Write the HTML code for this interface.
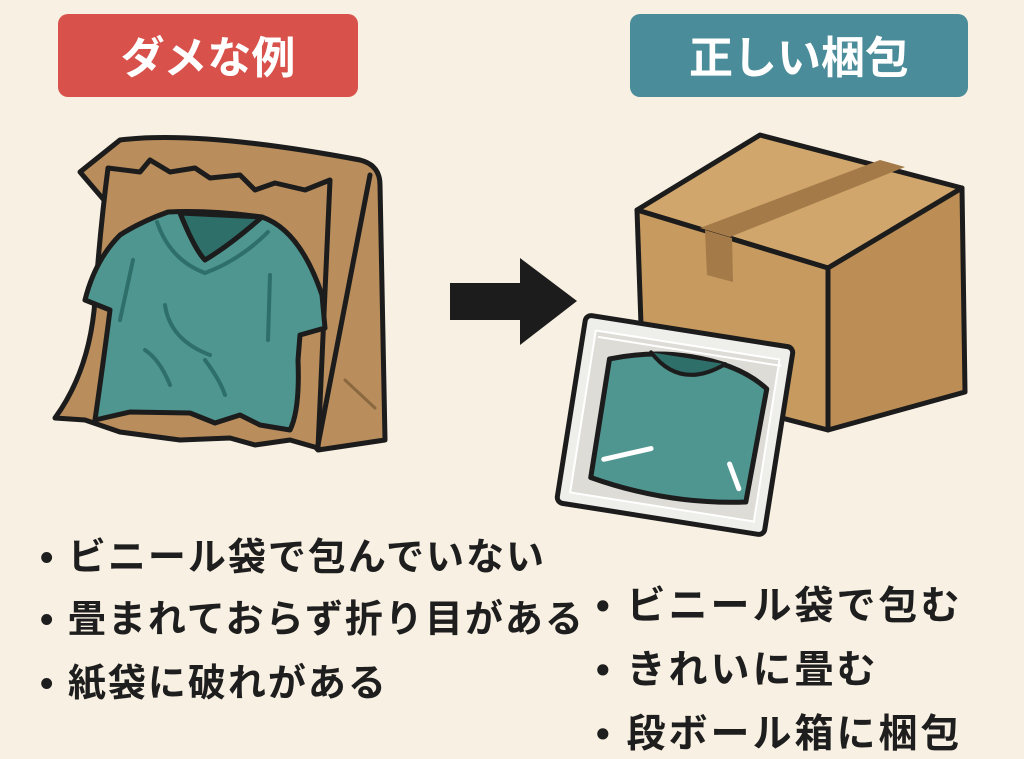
<!DOCTYPE html>
<html><head><meta charset="utf-8"><style>
body{margin:0;width:1024px;height:758px;background:#f8f0e2;overflow:hidden;font-family:"Liberation Sans","Noto Sans CJK JP",sans-serif}
.t{position:absolute;font-size:38px;font-weight:bold;color:#1e1e1e;white-space:nowrap;letter-spacing:2px}
.r{letter-spacing:3px;font-size:39px}
</style></head><body>
<svg width="1024" height="758" style="position:absolute;left:0;top:0" stroke-linejoin="round" stroke-linecap="round">
<rect x="58" y="14" width="300" height="83" rx="10" fill="#d8514a"/>
<rect x="630" y="14" width="338" height="83" rx="10" fill="#4a8c99"/>
<text x="208" y="73" fill="#fff" font-size="44" font-weight="bold" text-anchor="middle" font-family="Liberation Sans,Noto Sans CJK JP,sans-serif">ダメな例</text>
<text x="799" y="73" fill="#fff" font-size="44" font-weight="bold" text-anchor="middle" font-family="Liberation Sans,Noto Sans CJK JP,sans-serif">正しい梱包</text>
<g stroke="#1c1c1c" stroke-width="5" fill="#b98d5c">
<path d="M80,172 L120,140 Q200,130 360,160 Q380,165 380,185 L385,440 L318,450 Z"/>
<path d="M108,168 L140,172 L150,160 L170,172 L195,168 L210,178 L240,175 L255,190 L275,183 L305,190 L330,180 L318,448 L290,440 L255,445 L230,438 L180,440 L120,432 L85,420 L55,418 Q90,370 95,300 Q100,230 108,168 Z"/>
<path d="M370,175 L318,445" fill="none"/>
</g>
<path d="M345,380 L375,408" stroke="#8a6840" stroke-width="3"/>
<g stroke="#1c1c1c" stroke-width="5" fill="#4f9690">
<path d="M168,212 Q210,210 262,217 Q300,230 322,295 L325,328 L300,335 L298,360 Q300,410 290,430 L260,425 L240,415 L215,423 L190,413 L130,412 L95,420 Q105,350 110,310 L85,300 Q95,260 120,235 Q140,222 168,212 Z"/>
<path d="M180,213 Q195,250 205,260 Q230,245 262,217 Z" fill="#2e6f6a"/>
</g>
<g stroke="#2e6f6a" stroke-width="4" fill="none">
<path d="M157,222 Q170,260 205,273 Q240,260 268,232"/><path d="M165,305 Q170,340 210,355"/><path d="M145,350 Q160,360 170,385"/><path d="M205,360 Q220,380 225,395"/><path d="M270,275 L268,340"/><path d="M133,260 L120,320"/>
</g>
<path d="M450,283 L520,283 L520,258 L577,301 L520,345 L520,320 L450,320 Z" fill="#1c1c1c"/>
<g stroke="#1c1c1c" stroke-width="5" fill="#c79a5f">
<path d="M637,210 L760,135 L962,188 L828,268 Z" fill="#d1a66c"/>
<path d="M637,210 L828,268 L828,430 L643,382 Z"/>
<path d="M828,268 L962,188 L965,392 L828,430 Z" fill="#bc8e55"/>
</g>
<path d="M700,228 L880,160 L905,167 L730,237 Z" fill="#a37a48"/>
<path d="M705,230 L732,238 L733,282 L707,275 Z" fill="#a37a48"/>
<g transform="rotate(9 675 425)">
<rect x="570" y="330" width="210" height="190" rx="6" fill="#eeeeea" stroke="#1c1c1c" stroke-width="5"/>
<rect x="582" y="344" width="186" height="164" fill="#dedcd6" stroke="#fff" stroke-width="2"/>
<path d="M600,370 Q640,355 680,355 Q730,355 760,375 L757,490 Q680,505 600,490 Z" fill="#4f9690" stroke="#1c1c1c" stroke-width="5"/>
<path d="M640,357 Q675,390 715,357" fill="#2e6f6a" stroke="#1c1c1c" stroke-width="4"/>
<path d="M610,470 L655,452 M735,455 L748,478" stroke="#fff" stroke-width="5"/>
<path d="M586,350 L770,350" stroke="#fff" stroke-width="2"/>
</g>
</svg>
<div class="t" style="left:40px;top:526px">• ビニール袋で包んでいない</div>
<div class="t" style="left:40px;top:588px">• 畳まれておらず折り目がある</div>
<div class="t" style="left:40px;top:652px">• 紙袋に破れがある</div>
<div class="t r" style="left:596px;top:575px">• ビニール袋で包む</div>
<div class="t r" style="left:596px;top:639px">• きれいに畳む</div>
<div class="t r" style="left:596px;top:703px">• 段ボール箱に梱包</div>
</body></html>
